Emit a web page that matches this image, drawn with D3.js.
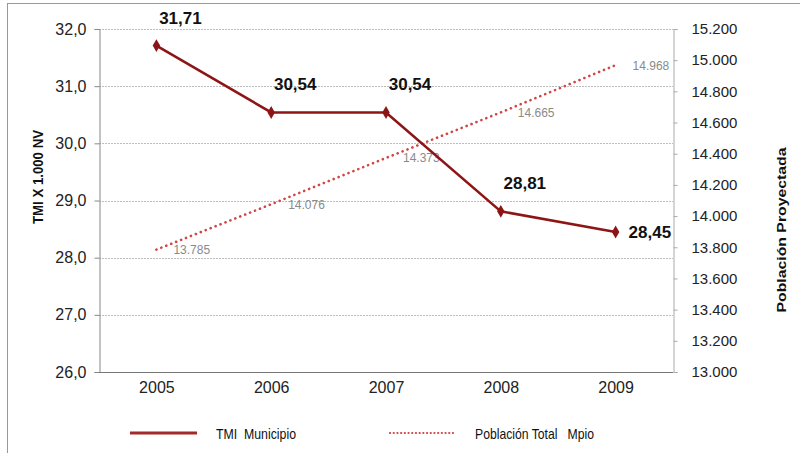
<!DOCTYPE html>
<html>
<head>
<meta charset="utf-8">
<script src="https://cdn.jsdelivr.net/npm/d3@7"></script>
<style>
  html, body { margin: 0; padding: 0; background: #fff; }
  svg { display: block; }
  text { font-family: "Liberation Sans", Arial, sans-serif; }
</style>
</head>
<body>
<svg id="chart" width="800" height="453"></svg>
<script>
const years = ["2005", "2006", "2007", "2008", "2009"];
const tmi = [31.71, 30.54, 30.54, 28.81, 28.45];
const poblacion = [13785, 14076, 14373, 14665, 14968];
const leftTicks = [26, 27, 28, 29, 30, 31, 32];
const rightTicks = [13000, 13200, 13400, 13600, 13800, 14000, 14200, 14400, 14600, 14800, 15000, 15200];
const leftTitle = "TMI X 1.000 NV";
const rightTitle = "Población Proyectada";
const legendLabels = ["TMI  Municipio", "Población Total   Mpio"];

const svg = d3.select("#chart");
const L = 99, R = 673, T = 29, B = 372;

const x = d3.scalePoint().domain(years).range([L, R]).padding(0.5);
const yL = d3.scaleLinear().domain([26, 32]).range([B, T]);
const yR = d3.scaleLinear().domain([13000, 15200]).range([B, T]);

const fmtL = d => d3.format(".1f")(d).replace(".", ",");
const fmtR = d => d3.format(",")(d).replace(/,/g, ".");
const fmt2 = d => d3.format(".2f")(d).replace(".", ",");

// frame
svg.append("line").attr("x1", 7.5).attr("x2", 7.5).attr("y1", 3).attr("y2", 453).attr("stroke", "#999").attr("stroke-width", 1);
svg.append("line").attr("x1", 7).attr("x2", 800).attr("y1", 3.5).attr("y2", 3.5).attr("stroke", "#999").attr("stroke-width", 1);

// gridlines
svg.append("g").selectAll("line").data(leftTicks.filter(d => d > 26)).join("line")
  .attr("x1", L).attr("x2", R)
  .attr("y1", d => Math.round(yL(d)) + 0.5).attr("y2", d => Math.round(yL(d)) + 0.5)
  .attr("stroke", "#bdbdbd").attr("stroke-width", 1).attr("stroke-dasharray", "2,1");

// left axis
const gL = svg.append("g").attr("transform", `translate(${L + 0.5},0)`)
  .call(d3.axisLeft(yL).tickValues(leftTicks).tickSize(5).tickPadding(8).tickFormat(fmtL));
gL.select(".domain").attr("stroke", "#888");
gL.selectAll(".tick line").attr("stroke", "#888");
gL.selectAll(".tick text").attr("font-size", 16).attr("fill", "#222")
  .attr("font-family", "Liberation Sans, Arial, sans-serif");

// right axis
const gR = svg.append("g").attr("transform", `translate(${R + 0.5},0)`)
  .call(d3.axisRight(yR).tickValues(rightTicks).tickSize(4).tickPadding(14).tickFormat(fmtR));
gR.select(".domain").attr("stroke", "#aaa");
gR.selectAll(".tick line").attr("stroke", "#aaa");
gR.selectAll(".tick text").attr("font-size", 15).attr("fill", "#222")
  .attr("font-family", "Liberation Sans, Arial, sans-serif");

// x axis
const gX = svg.append("g").attr("transform", `translate(0,${B + 0.5})`)
  .call(d3.axisBottom(x).tickSize(0).tickPadding(9));
gX.select(".domain").attr("stroke", "#777").attr("d", `M${L},0H${R}`);
gX.selectAll(".tick text").attr("font-size", 16).attr("fill", "#222")
  .attr("font-family", "Liberation Sans, Arial, sans-serif");

// axis titles
svg.append("text").attr("transform", "translate(43,177) rotate(-90)")
  .attr("text-anchor", "middle").attr("font-size", 14.5).attr("font-weight", "bold").attr("fill", "#111")
  .attr("textLength", 94).attr("lengthAdjust", "spacingAndGlyphs")
  .text(leftTitle);
svg.append("text").attr("transform", "translate(786,230) rotate(-90)")
  .attr("text-anchor", "middle").attr("font-size", 12).attr("font-weight", "bold").attr("fill", "#111")
  .attr("textLength", 165).attr("lengthAdjust", "spacingAndGlyphs")
  .text(rightTitle);

// population dotted line
const popData = years.map((y, i) => ({ year: y, v: poblacion[i] }));
svg.append("path").datum(popData)
  .attr("d", d3.line().x(d => x(d.year)).y(d => yR(d.v)))
  .attr("fill", "none").attr("stroke", "#d04545").attr("stroke-width", 2.6)
  .attr("stroke-linecap", "round").attr("stroke-dasharray", "0.1,5.2");
svg.append("g").selectAll("text").data(popData).join("text")
  .attr("x", d => x(d.year) + 17).attr("y", d => yR(d.v) + 4.5)
  .attr("font-size", 12).attr("fill", "#8a8a8a")
  .text(d => fmtR(d.v));

// TMI line
const tmiData = years.map((y, i) => ({ year: y, v: tmi[i], i }));
svg.append("path").datum(tmiData)
  .attr("d", d3.line().x(d => x(d.year)).y(d => yL(d.v)))
  .attr("fill", "none").attr("stroke", "#8e1515").attr("stroke-width", 2.6);
svg.append("g").selectAll("path").data(tmiData).join("path")
  .attr("transform", d => `translate(${x(d.year)},${yL(d.v)})`)
  .attr("d", d3.symbol().type(d3.symbolDiamond).size(48))
  .attr("fill", "#8e1515");
svg.append("g").selectAll("text").data(tmiData).join("text")
  .attr("x", d => d.i === tmiData.length - 1 ? x(d.year) + 13 : x(d.year) + 24)
  .attr("y", d => d.i === tmiData.length - 1 ? yL(d.v) + 6 : yL(d.v) - 22)
  .attr("text-anchor", d => d.i === tmiData.length - 1 ? "start" : "middle")
  .attr("font-size", 17).attr("font-weight", "bold").attr("fill", "#111")
  .text(d => fmt2(d.v));

// legend
const lg = svg.append("g");
lg.append("line").attr("x1", 130).attr("x2", 197).attr("y1", 433).attr("y2", 433)
  .attr("stroke", "#a32a2a").attr("stroke-width", 3);
lg.append("text").attr("x", 216).attr("y", 438.5).attr("font-size", 15).attr("fill", "#111")
  .attr("textLength", 80).attr("lengthAdjust", "spacingAndGlyphs")
  .style("white-space", "pre").text(legendLabels[0]);
lg.append("line").attr("x1", 390).attr("x2", 455).attr("y1", 433).attr("y2", 433)
  .attr("stroke", "#d04545").attr("stroke-width", 2.2)
  .attr("stroke-linecap", "round").attr("stroke-dasharray", "0.1,3.6");
lg.append("text").attr("x", 475).attr("y", 438.5).attr("font-size", 15).attr("fill", "#111")
  .attr("textLength", 119).attr("lengthAdjust", "spacingAndGlyphs")
  .style("white-space", "pre").text(legendLabels[1]);
</script>
</body>
</html>
